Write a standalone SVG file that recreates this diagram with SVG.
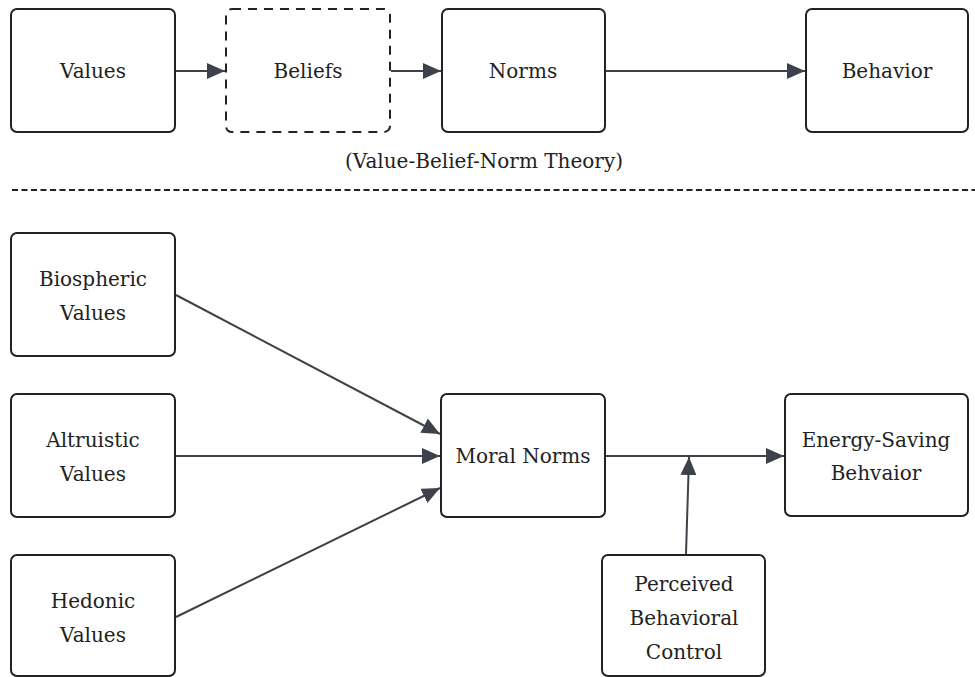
<svg xmlns="http://www.w3.org/2000/svg" width="975" height="677" viewBox="0 0 975 677">
<style>
.box{fill:#fff;stroke:#222;stroke-width:2}
.dash{stroke-dasharray:9 7}
.lbl{font-family:'DejaVu Serif','Liberation Serif',serif;font-size:20px;fill:#222;text-anchor:middle}
.con{stroke:#3d424a;stroke-width:2;fill:none;marker-end:url(#ah)}
</style>
<defs>
<marker id="ah" markerUnits="userSpaceOnUse" markerWidth="18" markerHeight="16" refX="18" refY="8" orient="auto">
<path d="M0,0 L18,8 L0,16 Z" fill="#3d424a"/>
</marker>
</defs>
<rect width="975" height="677" fill="#fff"/>
<g id="values"><rect class="box" x="11" y="9" width="164" height="123" rx="6"/><text class="lbl" x="93" y="78">Values</text></g>
<g id="beliefs"><rect class="box dash" x="226" y="9" width="164" height="123" rx="6"/><text class="lbl" x="308" y="78">Beliefs</text></g>
<g id="norms"><rect class="box" x="442" y="9" width="163" height="123" rx="6"/><text class="lbl" x="523" y="78">Norms</text></g>
<g id="behavior"><rect class="box" x="806" y="9" width="162" height="123" rx="6"/><text class="lbl" x="887" y="78">Behavior</text></g>
<text class="lbl" x="484" y="168">(Value-Belief-Norm Theory)</text>
<line x1="12" y1="190" x2="975" y2="190" stroke="#222" stroke-width="2" stroke-dasharray="6 3.5"/>
<g id="biospheric"><rect class="box" x="11" y="233" width="164" height="123" rx="6"/><text class="lbl" x="93" y="286">Biospheric</text><text class="lbl" x="93" y="320">Values</text></g>
<g id="altruistic"><rect class="box" x="11" y="394" width="164" height="123" rx="6"/><text class="lbl" x="93" y="447">Altruistic</text><text class="lbl" x="93" y="481">Values</text></g>
<g id="hedonic"><rect class="box" x="11" y="555" width="164" height="121" rx="6"/><text class="lbl" x="93" y="608">Hedonic</text><text class="lbl" x="93" y="642">Values</text></g>
<g id="moral"><rect class="box" x="441" y="394" width="164" height="123" rx="6"/><text class="lbl" x="523" y="463">Moral Norms</text></g>
<g id="energy"><rect class="box" x="785" y="394" width="183" height="122" rx="6"/><text class="lbl" x="876" y="447">Energy-Saving</text><text class="lbl" x="876" y="480">Behvaior</text></g>
<g id="pbc"><rect class="box" x="602" y="555" width="163" height="121" rx="6"/><text class="lbl" x="684" y="591">Perceived</text><text class="lbl" x="684" y="625">Behavioral</text><text class="lbl" x="684" y="659">Control</text></g>
<g id="connectors">
<line class="con" x1="176" y1="71" x2="225" y2="71"/>
<line class="con" x1="391" y1="71" x2="441" y2="71"/>
<line class="con" x1="606" y1="71" x2="805" y2="71"/>
<line class="con" x1="176" y1="295" x2="440" y2="434"/>
<line class="con" x1="176" y1="456" x2="440" y2="456"/>
<line class="con" x1="176" y1="617" x2="440" y2="488"/>
<line class="con" x1="606" y1="456" x2="784" y2="456"/>
<line class="con" x1="686" y1="554" x2="689" y2="457"/>
</g>
</svg>
